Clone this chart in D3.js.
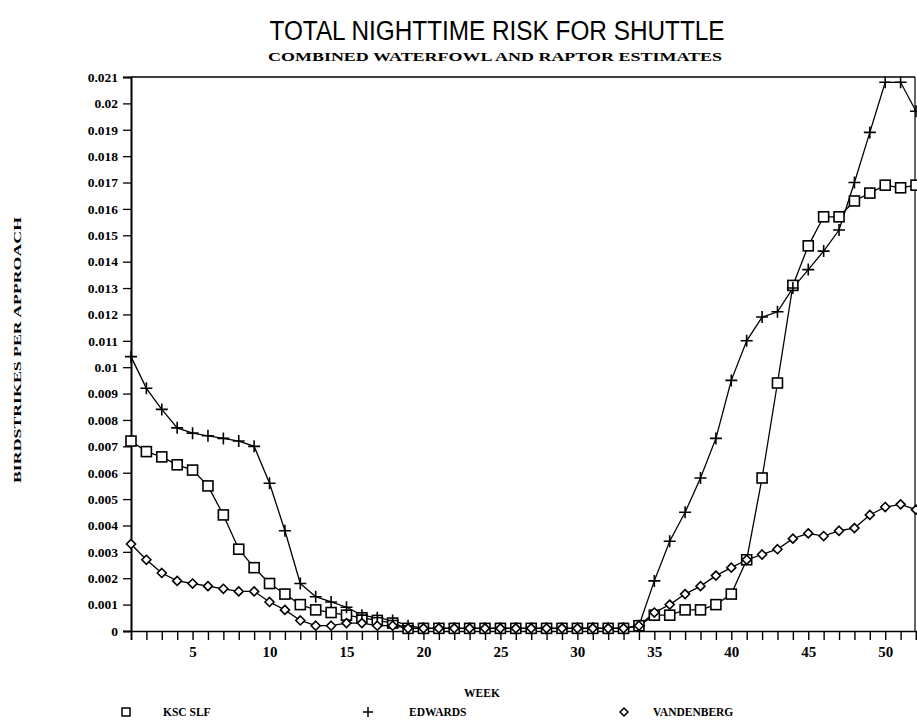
<!DOCTYPE html>
<html>
<head>
<meta charset="utf-8">
<script src="https://cdn.jsdelivr.net/npm/d3@7"></script>
<style>
  html, body { margin: 0; padding: 0; background: #fff; }
  svg { display: block; }
</style>
</head>
<body>
<svg id="chart" width="917" height="726"></svg>
<script>
// ---------- DATA ----------
const weeks = d3.range(1, 53);
const kscSlf = [
  0.0072, 0.0068, 0.0066, 0.0063, 0.0061, 0.0055, 0.0044, 0.0031, 0.0024, 0.0018,
  0.0014, 0.0010, 0.0008, 0.0007, 0.0006, 0.0005, 0.0004, 0.0003, 0.0001, 0.0001,
  0.0001, 0.0001, 0.0001, 0.0001, 0.0001, 0.0001, 0.0001, 0.0001, 0.0001, 0.0001,
  0.0001, 0.0001, 0.0001, 0.0002, 0.0006, 0.0006, 0.0008, 0.0008, 0.0010, 0.0014,
  0.0027, 0.0058, 0.0094, 0.0131, 0.0146, 0.0157, 0.0157, 0.0163, 0.0166, 0.0169,
  0.0168, 0.0169
];
const edwards = [
  0.0104, 0.0092, 0.0084, 0.0077, 0.0075, 0.0074, 0.0073, 0.0072, 0.0070, 0.0056,
  0.0038, 0.0018, 0.0013, 0.0011, 0.0009, 0.0006, 0.0005, 0.0004, 0.0002, 0.0001,
  0.0001, 0.0001, 0.0001, 0.0001, 0.0001, 0.0001, 0.0001, 0.0001, 0.0001, 0.0001,
  0.0001, 0.0001, 0.0001, 0.0002, 0.0019, 0.0034, 0.0045, 0.0058, 0.0073, 0.0095,
  0.0110, 0.0119, 0.0121, 0.0130, 0.0137, 0.0144, 0.0152, 0.0170, 0.0189, 0.0208,
  0.0208, 0.0197
];
const vandenberg = [
  0.0033, 0.0027, 0.0022, 0.0019, 0.0018, 0.0017, 0.0016, 0.0015, 0.0015, 0.0011,
  0.0008, 0.0004, 0.0002, 0.0002, 0.0003, 0.0003, 0.0002, 0.0002, 0.0001, 0.0001,
  0.0001, 0.0001, 0.0001, 0.0001, 0.0001, 0.0001, 0.0001, 0.0001, 0.0001, 0.0001,
  0.0001, 0.0001, 0.0001, 0.0002, 0.0007, 0.0010, 0.0014, 0.0017, 0.0021, 0.0024,
  0.0027, 0.0029, 0.0031, 0.0035, 0.0037, 0.0036, 0.0038, 0.0039, 0.0044, 0.0047,
  0.0048, 0.0046
];
const yTickValues = d3.range(0, 22).map(i => i / 1000);
const yTickLabels = ["0", "0.001", "0.002", "0.003", "0.004", "0.005", "0.006", "0.007",
  "0.008", "0.009", "0.01", "0.011", "0.012", "0.013", "0.014", "0.015", "0.016",
  "0.017", "0.018", "0.019", "0.02", "0.021"];
const xTickLabels = [5, 10, 15, 20, 25, 30, 35, 40, 45, 50];
const seriesNames = ["KSC SLF", "EDWARDS", "VANDENBERG"];
const titleText = "TOTAL NIGHTTIME RISK FOR SHUTTLE";
const subtitleText = "COMBINED WATERFOWL AND RAPTOR ESTIMATES";
const yLabelText = "BIRDSTRIKES PER APPROACH";
const xLabelText = "WEEK";

// ---------- SETUP ----------
const svg = d3.select("#chart");
svg.append("rect").attr("width", 917).attr("height", 726).attr("fill", "#fff");

const x = d3.scaleLinear().domain([1, 52]).range([131, 916]);
const y = d3.scaleLinear().domain([0, 0.021]).range([631, 77]);

const serif = "'Liberation Serif', 'DejaVu Serif', serif";

// Title
svg.append("text")
  .attr("x", 497).attr("y", 40)
  .attr("text-anchor", "middle")
  .attr("font-family", "'Liberation Sans', 'DejaVu Sans', sans-serif")
  .attr("font-size", 27)
  .attr("font-weight", 300)
  .attr("textLength", 455).attr("lengthAdjust", "spacingAndGlyphs")
  .text(titleText);

svg.append("text")
  .attr("x", 495).attr("y", 61)
  .attr("text-anchor", "middle")
  .attr("font-family", serif)
  .attr("font-weight", "bold")
  .attr("font-size", 12)
  .attr("textLength", 454).attr("lengthAdjust", "spacingAndGlyphs")
  .text(subtitleText);

// Y axis label
svg.append("text")
  .attr("transform", "translate(21,350) rotate(-90)")
  .attr("text-anchor", "middle")
  .attr("font-family", serif)
  .attr("font-weight", "bold")
  .attr("font-size", 11)
  .attr("textLength", 266).attr("lengthAdjust", "spacingAndGlyphs")
  .text(yLabelText);

// Frame (top and right)
svg.append("line").attr("x1", 131).attr("x2", 915).attr("y1", 77).attr("y2", 77)
  .attr("stroke", "#000").attr("stroke-width", 1.5);
svg.append("line").attr("x1", 915).attr("x2", 915).attr("y1", 77).attr("y2", 631)
  .attr("stroke", "#000").attr("stroke-width", 1.2);

// Y axis
const yAxis = d3.axisLeft(y)
  .tickValues(yTickValues)
  .tickSize(8)
  .tickPadding(5)
  .tickFormat((d, i) => yTickLabels[i]);
const gy = svg.append("g").attr("transform", "translate(131,0)").call(yAxis);
gy.select(".domain").attr("stroke-width", 2);
gy.selectAll(".tick line").attr("stroke-width", 1.3);
gy.selectAll(".tick text")
  .attr("font-family", serif).attr("font-weight", "bold").attr("font-size", 13.5)
  .attr("fill", "#000");

// X axis
const xAxis = d3.axisBottom(x)
  .tickValues(weeks)
  .tickSize(9)
  .tickPadding(6)
  .tickFormat(d => xTickLabels.includes(d) ? String(d) : "");
const gx = svg.append("g").attr("transform", "translate(0,631)").call(xAxis);
gx.select(".domain").attr("stroke-width", 1.6);
gx.selectAll(".tick line").attr("stroke-width", 1.4);
gx.selectAll(".tick text")
  .attr("font-family", serif).attr("font-weight", "bold").attr("font-size", 15)
  .attr("fill", "#000");

// ---------- SERIES ----------
const line = d3.line().x((d, i) => x(weeks[i])).y(d => y(d));
const allSeries = [kscSlf, edwards, vandenberg];
allSeries.forEach(s => {
  svg.append("path").datum(s)
    .attr("d", line)
    .attr("fill", "none")
    .attr("stroke", "#000")
    .attr("stroke-width", 1.3);
});

// markers
const sq = 10, pl = 12, dm = 9;
svg.append("g").selectAll("rect").data(kscSlf).join("rect")
  .attr("x", (d, i) => x(weeks[i]) - sq / 2)
  .attr("y", d => y(d) - sq / 2)
  .attr("width", sq).attr("height", sq)
  .attr("fill", "#fff").attr("stroke", "#000").attr("stroke-width", 1.6);

const plusPath = `M${-pl/2},0H${pl/2}M0,${-pl/2}V${pl/2}`;
svg.append("g").selectAll("path").data(edwards).join("path")
  .attr("transform", (d, i) => `translate(${x(weeks[i])},${y(d)})`)
  .attr("d", plusPath)
  .attr("fill", "none").attr("stroke", "#000").attr("stroke-width", 1.6);

const diamondPath = `M0,${-dm/2}L${dm/2},0L0,${dm/2}L${-dm/2},0Z`;
svg.append("g").selectAll("path").data(vandenberg).join("path")
  .attr("transform", (d, i) => `translate(${x(weeks[i])},${y(d)})`)
  .attr("d", diamondPath)
  .attr("fill", "#fff").attr("stroke", "#000").attr("stroke-width", 1.6);

// ---------- X LABEL & LEGEND ----------
svg.append("text")
  .attr("x", 482).attr("y", 697)
  .attr("text-anchor", "middle")
  .attr("font-family", serif).attr("font-weight", "bold").attr("font-size", 11.5)
  .text(xLabelText);

const legendX = [126, 368, 624];
const legendTextX = [163, 409, 653];
const legendY = 712;
const lg = svg.append("g");
lg.append("rect").attr("x", legendX[0] - 4).attr("y", legendY - 4).attr("width", 8).attr("height", 8)
  .attr("fill", "#fff").attr("stroke", "#000").attr("stroke-width", 1.5);
lg.append("path").attr("transform", `translate(${legendX[1]},${legendY})`)
  .attr("d", `M-5,0H5M0,-5V5`).attr("stroke", "#000").attr("stroke-width", 1.5);
lg.append("path").attr("transform", `translate(${legendX[2]},${legendY})`)
  .attr("d", `M0,-4L4,0L0,4L-4,0Z`).attr("fill", "#fff").attr("stroke", "#000").attr("stroke-width", 1.5);
seriesNames.forEach((n, i) => {
  lg.append("text")
    .attr("x", legendTextX[i]).attr("y", legendY + 4)
    .attr("font-family", serif).attr("font-weight", "bold").attr("font-size", 11.5)
    .text(n);
});
</script>
</body>
</html>
